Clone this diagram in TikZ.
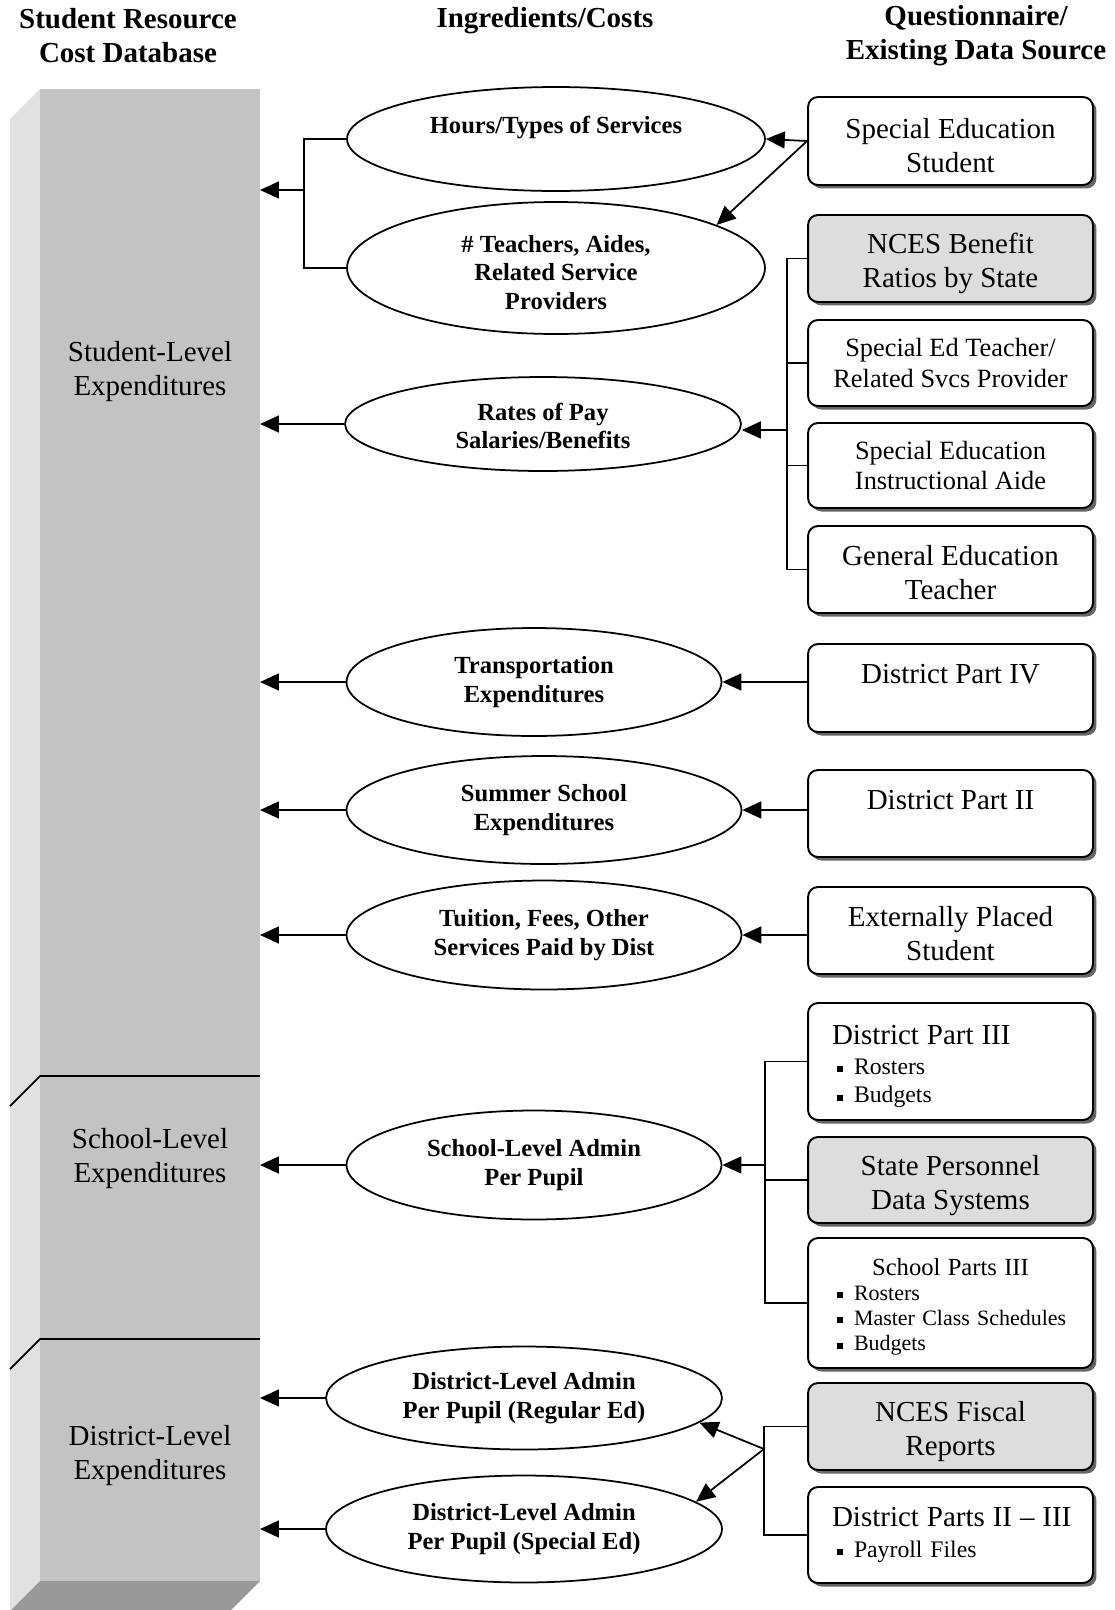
\documentclass[tikz,border=0pt]{standalone}
\usepackage{fontspec}
\setmainfont{Liberation Serif}
\usetikzlibrary{shapes.geometric,arrows.meta,shadows}
\definecolor{BarFront}{HTML}{C3C3C3}
\definecolor{BarSide}{HTML}{E1E1E1}
\definecolor{BarBottom}{HTML}{999999}
\definecolor{SourceGray}{HTML}{DDDDDD}
\newcommand{\bul}[1]{\hspace*{0.1cm}\rule[0.1em]{0.12cm}{0.12cm}\hspace{0.22cm}#1}
\newcommand{\tl}[1]{\rule{0pt}{#1}}

\begin{document}
\begin{tikzpicture}[x=0.02cm,y=-0.02cm,
    srcbox/.style={draw, line width=1.1pt, rounded corners=0.2cm, fill=white,
      minimum width=5.7cm, inner sep=0pt, align=center,
      font=\fontsize{16.5}{19.3}\selectfont,
      drop shadow={shadow xshift=0.07cm, shadow yshift=-0.07cm, fill=black!60, opacity=1}},
    ingr/.style={draw, ellipse, line width=1pt, inner sep=0pt, align=center,
      font=\bfseries\fontsize{14}{16.2}\selectfont},
    head/.style={align=center, font=\bfseries\fontsize{16.5}{19.3}\selectfont},
    lvl/.style={align=center, font=\fontsize{16.5}{19.3}\selectfont},
    arr/.style={line width=1pt, -{Triangle[length=0.38cm,width=0.34cm]}},
    link/.style={line width=1pt}]
  \useasboundingbox (0,0) rectangle (1115,1610);

  % column heads
  \node[head] (hdb) at (128,35.5) {Student Resource\\Cost Database};
  \node[head] (hingr) at (545,21) {Ingredients/Costs};
  \node[head] (hsrc) at (976,35.5) {Questionnaire/\\Existing Data Source};

  % database bar
  \fill[BarSide] (10,119) -- (40,89) -- (40,1581) -- (10,1611) -- cycle;
  \fill[BarBottom] (40,1581) -- (260,1581) -- (230,1611) -- (10,1611) -- cycle;
  \fill[BarFront] (40,89) rectangle (260,1581);
  \draw[link] (10,1106) -- (40,1076) -- (260,1076);
  \draw[link] (10,1369) -- (40,1339) -- (260,1339);
  \coordinate (barE) at (260,0);
  \node[lvl] (studentlvl) at (150,369) {\tl{14pt}Student-Level\\Expenditures};
  \node[lvl] (schoollvl) at (150,1155) {\tl{15pt}School-Level\\Expenditures};
  \node[lvl] (districtlvl) at (150,1452) {\tl{15pt}District-Level\\Expenditures};

  % ingredients
  \node[ingr, minimum width=8.36cm, minimum height=2.08cm] (hours) at (556,139) {\tl{15pt}Hours/Types of Services\\ \strut};
  \node[ingr, minimum width=8.36cm, minimum height=2.64cm] (teachers) at (556,268) {\tl{14.5pt}\# Teachers, Aides,\\Related Service\\Providers};
  \node[ingr, minimum width=7.92cm, minimum height=1.88cm] (rates) at (543,424) {\tl{11.8pt}Rates of Pay\\Salaries/Benefits};
  \node[ingr, minimum width=7.5cm, minimum height=2.16cm] (transport) at (534,682) {Transportation\\Expenditures};
  \node[ingr, minimum width=7.9cm, minimum height=2.16cm] (summer) at (544,810) {Summer School\\Expenditures};
  \node[ingr, minimum width=7.9cm, minimum height=2.18cm] (tuition) at (544,935) {Tuition, Fees, Other\\Services Paid by Dist};
  \node[ingr, minimum width=7.5cm, minimum height=2.18cm] (schooladmin) at (534,1165) {School-Level Admin\\Per Pupil};
  \node[ingr, minimum width=7.92cm, minimum height=2.06cm] (distreg) at (524,1398) {District-Level Admin\\Per Pupil (Regular Ed)};
  \node[ingr, minimum width=7.92cm, minimum height=2.14cm] (distspec) at (524,1529) {District-Level Admin\\Per Pupil (Special Ed)};

  % sources
  \node[srcbox, minimum height=1.76cm] (sestudent) at (950.5,141) {\tl{16.5pt}Special Education\\Student};
  \node[srcbox, fill=SourceGray, minimum height=1.74cm] (ncesbenefit) at (950.5,258.5) {\tl{17.5pt}NCES Benefit\\Ratios by State};
  \node[srcbox, minimum height=1.72cm, font=\fontsize{15}{17.5}\selectfont] (seteacher) at (950.5,363) {Special Ed Teacher/\\Related Svcs Provider};
  \node[srcbox, minimum height=1.7cm, font=\fontsize{15}{17.5}\selectfont] (seaide) at (950.5,465.5) {Special Education\\Instructional Aide};
  \node[srcbox, minimum height=1.74cm] (geteacher) at (950.5,569.5) {\tl{15pt}General Education\\Teacher};
  \node[srcbox, minimum height=1.76cm] (partiv) at (950.5,688) {\tl{20.5pt}District Part IV\\ \strut};
  \node[srcbox, minimum height=1.74cm] (partii) at (950.5,813.5) {\tl{20.5pt}District Part II\\ \strut};
  \node[srcbox, minimum height=1.74cm] (external) at (950.5,930.5) {\tl{15pt}Externally Placed\\Student};
  \node[srcbox, minimum height=2.34cm, text width=4.74cm, align=left,
    font=\fontsize{13.5}{16}\selectfont] (partiii) at (950.5,1061.5)
    {\tl{16.5pt}{\fontsize{16.5}{19.3}\selectfont District Part III}\\[1.5pt]\bul{Rosters}\\\bul{Budgets}};
  \node[srcbox, fill=SourceGray, minimum height=1.72cm] (statepers) at (950.5,1180) {\tl{17.5pt}State Personnel\\Data Systems};
  \node[srcbox, minimum height=2.6cm, text width=4.74cm, align=left,
    font=\fontsize{12.5}{14.3}\selectfont] (schoolparts) at (950.5,1303)
    {\tl{14.2pt}\makebox[\linewidth][c]{\fontsize{14}{16}\selectfont School Parts III}\\\bul{Rosters}\\\bul{Master Class Schedules}\\\bul{Budgets}};
  \node[srcbox, fill=SourceGray, minimum height=1.74cm] (ncesfiscal) at (950.5,1426.5) {\tl{17.5pt}NCES Fiscal\\Reports};
  \node[srcbox, minimum height=1.92cm, text width=4.74cm, align=left,
    font=\fontsize{13.5}{16}\selectfont] (partsiiiii) at (950.5,1535)
    {\makebox[\linewidth][l]{\fontsize{16.5}{19.3}\selectfont District Parts II -- III}\\[1.5pt]\bul{Payroll Files}};

  % ingredients -> database
  \coordinate (jA) at (304,190);
  \draw[link] (hours.west) -| (jA) |- (teachers.west);
  \draw[arr] (jA) -- (barE |- jA);
  \foreach \n in {rates,transport,summer,tuition,schooladmin,distreg,distspec}
    \draw[arr] (\n.west) -- (barE |- \n.west);

  % sources -> ingredients
  \draw[arr] (sestudent.west) -- (hours.east);
  \draw[arr] (sestudent.west) -- (teachers.15);
  \coordinate (jB) at (787,430);
  \draw[link] (ncesbenefit.west) -| (jB) |- (geteacher.west);
  \draw[link] (seteacher.west) -- (seteacher.west -| jB);
  \draw[link] (seaide.west) -- (seaide.west -| jB);
  \draw[arr] (jB) -- (rates.east |- jB);
  \draw[arr] (partiv.west |- transport.east) -- (transport.east);
  \draw[arr] (partii.west |- summer.east) -- (summer.east);
  \draw[arr] (external.west |- tuition.east) -- (tuition.east);
  \coordinate (jC) at (765,1165);
  \draw[link] (partiii.west) -| (jC) |- (schoolparts.west);
  \draw[link] (statepers.west) -- (statepers.west -| jC);
  \draw[arr] (jC) -- (schooladmin.east);
  \coordinate (jD) at (764,1449);
  \draw[link] (ncesfiscal.west) -| (jD) |- (partsiiiii.west);
  \draw[arr] (jD) -- (distreg.-8);
  \draw[arr] (jD) -- (distspec.9);
\end{tikzpicture}
\end{document}
